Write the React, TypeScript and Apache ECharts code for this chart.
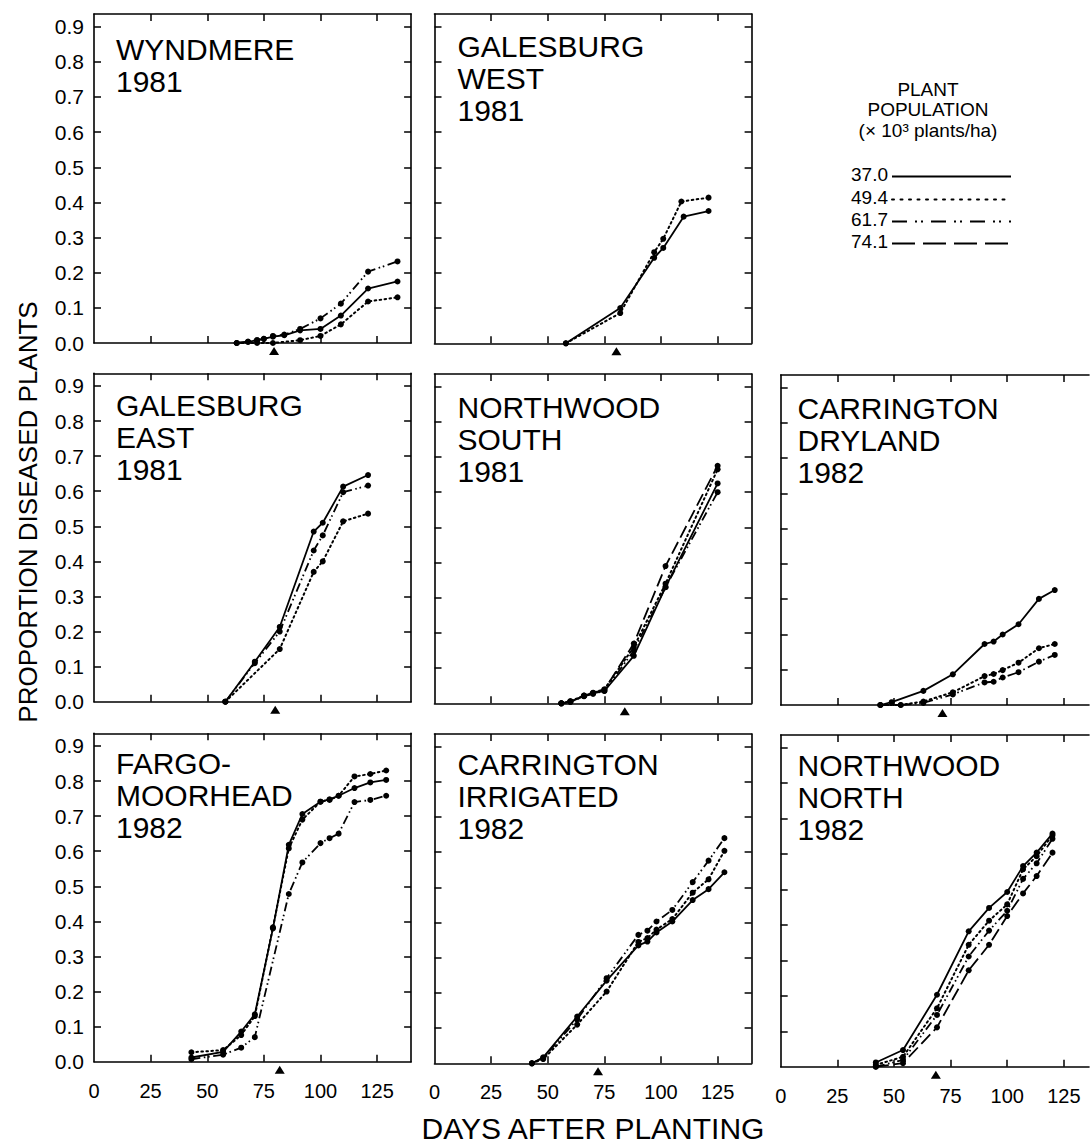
import React, { useEffect, useRef } from "react";
import * as echarts from "echarts";

// ---------- tick labels / categories ----------
const X_TICKS = [0, 25, 50, 75, 100, 125];
const Y_TICKS = [0, 0.1, 0.2, 0.3, 0.4, 0.5, 0.6, 0.7, 0.8, 0.9];
const POPULATIONS = ["37.0", "49.4", "61.7", "74.1"];
const LEGEND_TITLE = ["PLANT", "POPULATION", "(× 10³ plants/ha)"];
const X_TITLE = "DAYS AFTER PLANTING";
const Y_TITLE = "PROPORTION DISEASED PLANTS";

const TITLES = [
  "WYNDMERE\n1981",
  "GALESBURG\nWEST\n1981",
  "GALESBURG\nEAST\n1981",
  "NORTHWOOD\nSOUTH\n1981",
  "CARRINGTON\nDRYLAND\n1982",
  "FARGO-\nMOORHEAD\n1982",
  "CARRINGTON\nIRRIGATED\n1982",
  "NORTHWOOD\nNORTH\n1982",
];

// day of the arrow (triangle) under each panel
const ARROW_DAYS = [79.5, 80.3, 80, 84, 71.4, 82, 72.2, 68.5];

// ---------- data: [days after planting, proportion diseased] ----------
const WYN_37 = [[63, 0], [68, 0.003], [72, 0.008], [75, 0.012], [79, 0.018], [84, 0.022], [91, 0.036], [100, 0.04], [109, 0.078], [121, 0.155], [134, 0.175]];
const WYN_49 = [[63, 0], [72, 0], [79, 0], [91, 0.008], [100, 0.02], [109, 0.053], [121, 0.118], [134, 0.13]];
const WYN_61 = [[63, 0], [68, 0.004], [72, 0.008], [75, 0.012], [79, 0.02], [84, 0.024], [91, 0.04], [100, 0.07], [109, 0.112], [121, 0.203], [134, 0.232]];

const GW_37 = [[58, 0], [82, 0.1], [97, 0.243], [101, 0.271], [110, 0.36], [121, 0.376]];
const GW_49 = [[58, 0], [82, 0.086], [97, 0.259], [101, 0.297], [109, 0.403], [121, 0.414]];

const GE_37 = [[58, 0], [71, 0.114], [82, 0.213], [97, 0.485], [101, 0.51], [110, 0.613], [121, 0.646]];
const GE_49 = [[58, 0], [82, 0.15], [97, 0.37], [101, 0.4], [110, 0.514], [121, 0.536]];
const GE_61 = [[58, 0], [71, 0.11], [82, 0.2], [97, 0.431], [101, 0.474], [110, 0.597], [121, 0.616]];

const NS_37 = [[56, 0], [60, 0.005], [66, 0.02], [70, 0.028], [75, 0.035], [88, 0.135], [102, 0.33], [125, 0.625]];
const NS_49 = [[56, 0], [60, 0.006], [66, 0.022], [70, 0.03], [75, 0.04], [88, 0.16], [102, 0.34], [125, 0.665]];
const NS_61 = [[56, 0], [60, 0.004], [66, 0.02], [70, 0.027], [75, 0.035], [88, 0.15], [102, 0.33], [125, 0.6]];
const NS_74 = [[56, 0], [60, 0.005], [66, 0.022], [70, 0.03], [75, 0.038], [88, 0.17], [102, 0.39], [125, 0.675]];

const CD_37 = [[44, 0], [49, 0.008], [63, 0.04], [76, 0.087], [90, 0.173], [94, 0.18], [98, 0.2], [105, 0.229], [114, 0.301], [121, 0.326]];
const CD_49 = [[44, 0], [53, 0], [63, 0.01], [76, 0.036], [90, 0.082], [94, 0.088], [98, 0.099], [105, 0.12], [114, 0.161], [121, 0.173]];
const CD_61 = [[44, 0], [53, 0], [63, 0.006], [76, 0.03], [90, 0.064], [94, 0.066], [98, 0.078], [105, 0.093], [114, 0.123], [121, 0.142]];

const FM_37 = [[43, 0.012], [57, 0.028], [65, 0.086], [71, 0.135], [79, 0.38], [86, 0.618], [92, 0.706], [100, 0.741], [104, 0.748], [108, 0.758], [115, 0.78], [122, 0.796], [129, 0.803]];
const FM_49 = [[43, 0.027], [57, 0.033], [65, 0.076], [71, 0.13], [79, 0.383], [86, 0.608], [92, 0.69], [100, 0.741], [104, 0.746], [108, 0.758], [115, 0.813], [122, 0.82], [129, 0.83]];
const FM_61 = [[43, 0.007], [57, 0.02], [65, 0.04], [71, 0.07], [86, 0.478], [92, 0.568], [100, 0.623], [104, 0.637], [108, 0.65], [115, 0.74], [122, 0.746], [129, 0.758]];

const CI_37 = [[43, 0], [48, 0.017], [63, 0.133], [76, 0.235], [90, 0.335], [94, 0.346], [98, 0.372], [105, 0.403], [114, 0.464], [121, 0.495], [128, 0.543]];
const CI_49 = [[43, 0], [48, 0.012], [63, 0.11], [76, 0.204], [90, 0.345], [94, 0.356], [98, 0.38], [105, 0.41], [114, 0.485], [121, 0.523], [128, 0.604]];
const CI_61 = [[43, 0], [48, 0.015], [63, 0.125], [76, 0.242], [90, 0.365], [94, 0.377], [98, 0.403], [105, 0.436], [114, 0.515], [121, 0.576], [128, 0.64]];

const NN_37 = [[42, 0.012], [54, 0.047], [69, 0.203], [83, 0.382], [92, 0.448], [100, 0.493], [107, 0.566], [113, 0.604], [120, 0.658]];
const NN_49 = [[42, 0.005], [54, 0.028], [69, 0.165], [83, 0.344], [92, 0.412], [100, 0.458], [107, 0.557], [113, 0.594], [120, 0.653]];
const NN_61 = [[42, 0], [54, 0.019], [69, 0.146], [83, 0.311], [92, 0.384], [100, 0.44], [107, 0.53], [113, 0.574], [120, 0.643]];
const NN_74 = [[42, 0], [54, 0.01], [69, 0.111], [83, 0.272], [92, 0.344], [100, 0.425], [107, 0.489], [113, 0.538], [120, 0.604]];

// series of each panel: [population index, data]
const PANEL_SERIES: [number, number[][]][][] = [
  [[0, WYN_37], [1, WYN_49], [2, WYN_61]],
  [[0, GW_37], [1, GW_49]],
  [[0, GE_37], [1, GE_49], [2, GE_61]],
  [[0, NS_37], [1, NS_49], [2, NS_61], [3, NS_74]],
  [[0, CD_37], [1, CD_49], [2, CD_61]],
  [[0, FM_37], [1, FM_49], [2, FM_61]],
  [[0, CI_37], [1, CI_49], [2, CI_61]],
  [[0, NN_37], [1, NN_49], [2, NN_61], [3, NN_74]],
];

// ---------- layout (pixels) ----------
const COL_LEFT = [94, 434.5, 780.7];
const PX_PER_DAY = 2.265;
const PANEL_POS = [
  { col: 0, row: 0, top: 14, bottom: 343, capY: 49.3 },
  { col: 1, row: 0, top: 14, bottom: 343.3, capY: 46.7 },
  { col: 0, row: 1, top: 373.3, bottom: 701.7, capY: 405 },
  { col: 1, row: 1, top: 374, bottom: 703.3, capY: 407 },
  { col: 2, row: 1, top: 375, bottom: 705, capY: 408.8 },
  { col: 0, row: 2, top: 733.3, bottom: 1061.7, capY: 763.3 },
  { col: 1, row: 2, top: 734, bottom: 1063.3, capY: 764.7 },
  { col: 2, row: 2, top: 735, bottom: 1066.7, capY: 765 },
];
const TITLE_X = [116, 457.5, 797.5];
const FONT = '"Liberation Sans", Arial, Helvetica, sans-serif';

const PANEL_DASH: any[] = ["solid", [1.6, 3.4], [9, 3.5, 1.6, 2.8, 1.6, 3.5], [13, 5]];
const LEGEND_DASH: any[] = [null, [2, 6.5], [15, 8, 2, 4, 2, 8], [23, 8]];

function buildOption() {
  const grid: any[] = [];
  const xAxis: any[] = [];
  const yAxis: any[] = [];
  const series: any[] = [];
  const graphic: any[] = [];
  const black = "#000";
  const axisLine = { show: true, onZero: false, lineStyle: { color: black, width: 1.6 } };

  PANEL_POS.forEach((p, i) => {
    const left = COL_LEFT[p.col];
    const xmax = p.col === 2 ? (1089 - left) / PX_PER_DAY : 140;
    const width = xmax * PX_PER_DAY;
    grid.push({ left, top: p.top, width, height: p.bottom - p.top, containLabel: false });
    const tickX = { show: true, inside: true, length: 7, lineStyle: { color: black, width: 1.5 }, customValues: X_TICKS.slice(1) };
    const tickY = { show: true, inside: true, length: 7, lineStyle: { color: black, width: 1.5 }, customValues: Y_TICKS.slice(1) };
    xAxis.push({
      type: "value", gridIndex: i, position: "bottom", min: 0, max: xmax,
      axisLine, axisTick: tickX, splitLine: { show: false },
      axisLabel: {
        show: p.row === 2, customValues: X_TICKS, margin: 19, color: black,
        fontFamily: FONT, fontSize: 20, formatter: (v: number) => String(Math.round(v)),
      },
    });
    xAxis.push({
      type: "value", gridIndex: i, position: "top", min: 0, max: xmax,
      axisLine, axisTick: tickX, splitLine: { show: false }, axisLabel: { show: false },
    });
    yAxis.push({
      type: "value", gridIndex: i, position: "left", min: 0, max: 0.936,
      axisLine, axisTick: tickY, splitLine: { show: false },
      axisLabel: {
        show: p.col === 0, customValues: Y_TICKS, margin: 10, color: black,
        fontFamily: FONT, fontSize: 21, formatter: (v: number) => v.toFixed(1),
      },
    });
    yAxis.push({
      type: "value", gridIndex: i, position: "right", min: 0, max: 0.936,
      axisLine: { show: p.col !== 2, onZero: false, lineStyle: { color: black, width: 1.6 } },
      axisTick: { ...tickY, show: p.col !== 2 }, splitLine: { show: false }, axisLabel: { show: false },
    });

    PANEL_SERIES[i].forEach(([pop, data], k) => {
      const s: any = {
        type: "line", xAxisIndex: 2 * i, yAxisIndex: 2 * i, data,
        symbol: "circle", symbolSize: 6, showSymbol: true, silent: true, clip: false,
        lineStyle: { color: black, width: pop === 1 ? 2 : 1.8, type: PANEL_DASH[pop], cap: pop === 1 ? "round" : "butt" },
        itemStyle: { color: black },
        z: 3,
      };
      if (k === 0) {
        s.markPoint = {
          silent: true, symbol: "triangle", symbolSize: [10, 8], symbolOffset: [0, 8],
          itemStyle: { color: black }, label: { show: false },
          data: [{ coord: [ARROW_DAYS[i], 0] }],
        };
      }
      series.push(s);
    });

    graphic.push({
      type: "text", x: TITLE_X[p.col], y: p.capY - 16,
      style: {
        text: TITLES[i], fill: black, fontSize: 30, fontFamily: FONT,
        lineHeight: 32, align: "left", verticalAlign: "top", textAlign: "left", textVerticalAlign: "top",
      },
    });
  });

  // axis titles
  graphic.push({
    type: "text", x: 593, y: 1128,
    style: { text: X_TITLE, fill: black, fontSize: 30, fontFamily: FONT, align: "center", verticalAlign: "middle", textAlign: "center", textVerticalAlign: "middle" },
  });
  graphic.push({
    type: "text", x: 28, y: 512, rotation: Math.PI / 2,
    style: { text: Y_TITLE, fill: black, fontSize: 26, fontFamily: FONT, align: "center", verticalAlign: "middle", textAlign: "center", textVerticalAlign: "middle" },
  });

  // legend
  const legTitleY = [89.5, 109.3, 130.5];
  LEGEND_TITLE.forEach((t, j) => {
    graphic.push({
      type: "text", x: 928, y: legTitleY[j],
      style: { text: t, fill: black, fontSize: 19, fontFamily: FONT, align: "center", verticalAlign: "middle", textAlign: "center", textVerticalAlign: "middle" },
    });
  });
  const legRowY = [174.5, 197.5, 219.5, 241.5];
  POPULATIONS.forEach((t, j) => {
    graphic.push({
      type: "text", x: 888, y: legRowY[j],
      style: { text: t, fill: black, fontSize: 19, fontFamily: FONT, align: "right", verticalAlign: "middle", textAlign: "right", textVerticalAlign: "middle" },
    });
    const st: any = { stroke: black, lineWidth: j === 1 ? 2 : 1.8 };
    if (LEGEND_DASH[j]) st.lineDash = LEGEND_DASH[j];
    if (j === 1) st.lineCap = "round";
    graphic.push({
      type: "line", shape: { x1: 892, y1: legRowY[j] + 2, x2: 1011, y2: legRowY[j] + 2 }, style: st,
    });
  });

  return { animation: false, backgroundColor: "#fff", grid, xAxis, yAxis, series, graphic };
}

export default function App() {
  const ref = useRef<HTMLDivElement>(null);
  useEffect(() => {
    if (!ref.current) return;
    const chart = echarts.init(ref.current, undefined, { renderer: "svg" });
    chart.setOption(buildOption() as any);
    return () => chart.dispose();
  }, []);
  return <div ref={ref} style={{ position: "absolute", left: 0, top: 0, width: 1090, height: 1145, background: "#fff" }} />;
}
